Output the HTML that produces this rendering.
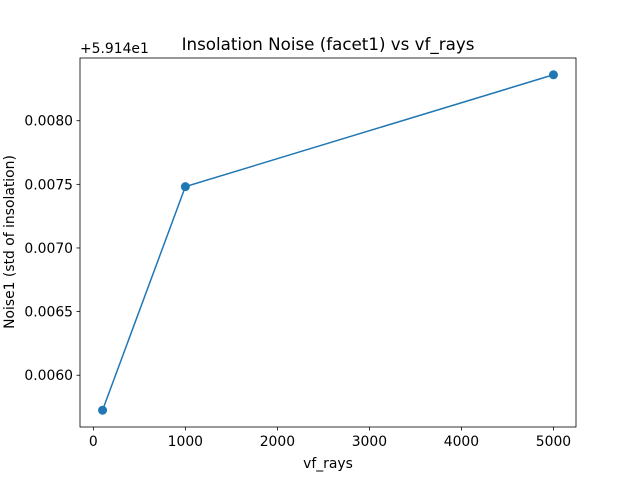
<!DOCTYPE html>
<html><head><meta charset="utf-8"><style>
body{margin:0;background:#fff}
text{font-family:"DejaVu Sans","Liberation Sans",sans-serif;fill:#000}
</style></head><body>
<svg id="chart" width="640" height="480" viewBox="0 0 640 480" xmlns="http://www.w3.org/2000/svg">
<rect width="640" height="480" fill="#fff"/>
<text x="328" y="50" font-size="16.7" text-anchor="middle">Insolation Noise (facet1) vs vf_rays</text>
<text x="80" y="53" font-size="13.9">+5.914e1</text>
<text x="328" y="468" font-size="13.9" text-anchor="middle">vf_rays</text>
<text transform="translate(14,242) rotate(-90)" font-size="13.9" text-anchor="middle">Noise1 (std of insolation)</text>
<g id="xticks"></g><g id="yticks"></g><g id="series"></g>
<rect x="80" y="58" width="496" height="369" fill="none" stroke="#000" stroke-width="0.8"/>
</svg>
<script>
const xValues=[100,1000,5000];
const yValues=[0.005725,0.007482,0.008361];
const xTicks=[0,1000,2000,3000,4000,5000];
const yTicks=[0.0060,0.0065,0.0070,0.0075,0.0080];
const yTickLabels=["0.0060","0.0065","0.0070","0.0075","0.0080"];
const NS="http://www.w3.org/2000/svg";
const L=80,R=576,T=58,B=427;
const xmn=Math.min(...xValues),xmx=Math.max(...xValues),xm=(xmx-xmn)*0.05;
const ymn=Math.min(...yValues),ymx=Math.max(...yValues),ym=(ymx-ymn)*0.05;
const sx=v=>L+(v-(xmn-xm))/((xmx+xm)-(xmn-xm))*(R-L);
const sy=v=>B-(v-(ymn-ym))/((ymx+ym)-(ymn-ym))*(B-T);
function mk(tag,attrs,parent){const e=document.createElementNS(NS,tag);for(const k in attrs)e.setAttribute(k,attrs[k]);parent.appendChild(e);return e;}
const gx=document.getElementById('xticks');
xTicks.forEach(t=>{const x=sx(t);
const ln=mk('line',{x1:x,x2:x,y1:B,y2:B+3.5,stroke:'#000','stroke-width':0.8},gx);


const tx=mk('text',{x:x,y:B+19,'font-size':13.9,'text-anchor':'middle'},gx);tx.textContent=t;

});
const gy=document.getElementById('yticks');
yTicks.forEach((t,i)=>{const y=sy(t);
const ln=mk('line',{x1:L-3.5,x2:L,y1:y,y2:y,stroke:'#000','stroke-width':0.8},gy);


const tx=mk('text',{x:L-7,y:y+5,'font-size':13.9,'text-anchor':'end'},gy);tx.textContent=yTickLabels[i];

});
const gs=document.getElementById('series');
const pl=mk('polyline',{points:xValues.map((v,i)=>sx(v)+','+sy(yValues[i])).join(' '),fill:'none',stroke:'#1f77b4','stroke-width':1.5},gs);


xValues.forEach((v,i)=>{const c=mk('circle',{cx:sx(v),cy:sy(yValues[i]),r:4.5,fill:'#1f77b4'},gs);

});
</script>
</body></html>
